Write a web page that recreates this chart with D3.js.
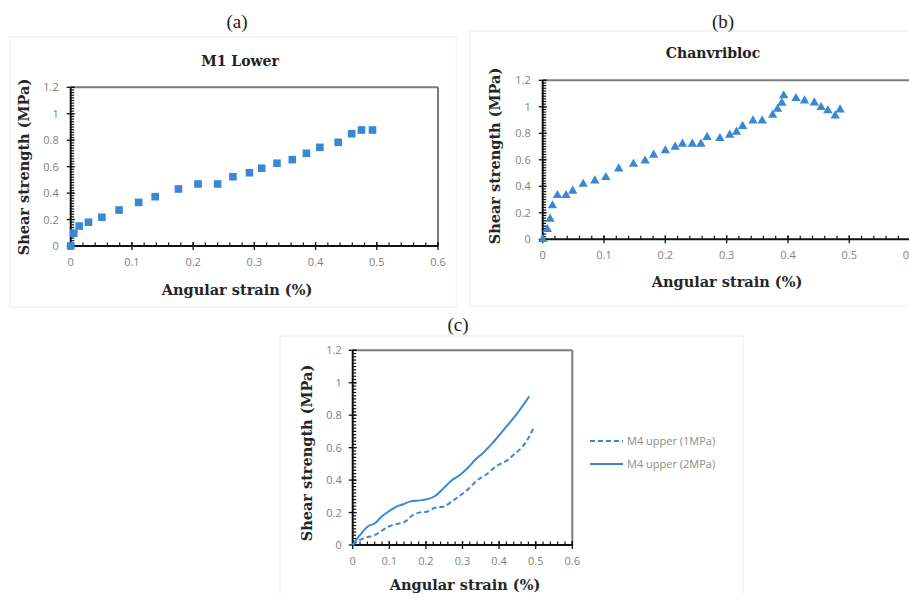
<!DOCTYPE html>
<html><head><meta charset="utf-8">
<script src="https://cdn.jsdelivr.net/npm/d3@7"></script>
<style>
body{margin:0;background:#fff;}
svg{display:block;}
</style></head>
<body>
<svg id="c" width="909" height="594"></svg>
<script>
// ---------- DATA ----------
const xTicks = [0, 0.1, 0.2, 0.3, 0.4, 0.5, 0.6];
const yTicks = [0, 0.2, 0.4, 0.6, 0.8, 1, 1.2];

// (a) M1 Lower
const m1Strain = [0, 0.005, 0.014, 0.029, 0.051, 0.079, 0.111, 0.138, 0.176, 0.208, 0.24, 0.265, 0.292, 0.312, 0.337, 0.362, 0.385, 0.407, 0.437, 0.459, 0.475, 0.493];
const m1Shear  = [0, 0.096, 0.151, 0.18, 0.217, 0.272, 0.33, 0.373, 0.431, 0.469, 0.469, 0.524, 0.554, 0.588, 0.626, 0.653, 0.701, 0.746, 0.784, 0.849, 0.877, 0.877];

// (b) Chanvribloc
const chStrain = [0, 0.0075, 0.012, 0.016, 0.024, 0.038, 0.049, 0.066, 0.085, 0.103, 0.124, 0.148, 0.167, 0.181, 0.2, 0.216, 0.228, 0.244, 0.258, 0.268, 0.289, 0.305, 0.316, 0.326, 0.343, 0.358, 0.375, 0.383, 0.39, 0.393, 0.413, 0.427, 0.443, 0.454, 0.465, 0.477, 0.485];
const chShear  = [0, 0.075, 0.153, 0.254, 0.332, 0.332, 0.365, 0.417, 0.442, 0.468, 0.533, 0.568, 0.593, 0.636, 0.669, 0.697, 0.719, 0.719, 0.719, 0.77, 0.762, 0.787, 0.81, 0.853, 0.895, 0.895, 0.938, 0.983, 1.029, 1.084, 1.064, 1.046, 1.031, 0.996, 0.971, 0.933, 0.978];

// (c) M4 upper
const m4aName = "M4 upper (1MPa)";
const m4aStrain = [0, 0.02, 0.038, 0.061, 0.079, 0.102, 0.12, 0.143, 0.161, 0.184, 0.202, 0.225, 0.248, 0.27, 0.293, 0.316, 0.339, 0.366, 0.393, 0.421, 0.439, 0.462, 0.478, 0.493];
const m4aShear  = [0, 0.031, 0.047, 0.062, 0.088, 0.117, 0.129, 0.144, 0.179, 0.201, 0.205, 0.23, 0.236, 0.267, 0.304, 0.345, 0.397, 0.436, 0.487, 0.52, 0.555, 0.602, 0.651, 0.716];
const m4bName = "M4 upper (2MPa)";
const m4bStrain = [0, 0.02, 0.043, 0.061, 0.079, 0.097, 0.12, 0.138, 0.158, 0.184, 0.207, 0.225, 0.248, 0.27, 0.293, 0.316, 0.334, 0.357, 0.38, 0.403, 0.425, 0.448, 0.466, 0.482];
const m4bShear  = [0, 0.062, 0.117, 0.134, 0.175, 0.205, 0.236, 0.251, 0.269, 0.275, 0.284, 0.302, 0.349, 0.397, 0.431, 0.479, 0.524, 0.569, 0.623, 0.684, 0.744, 0.807, 0.863, 0.916];

// ---------- DRAW ----------
const svg = d3.select("#c");
const BLUE = "#3a88d4";
const SERIF = "'DejaVu Serif','Liberation Serif',serif";
const SERIF2 = "'Liberation Serif','DejaVu Serif',serif";
const SANS = "'Open Sans','Noto Sans',sans-serif";
const fmt = d => d === 0 ? "0" : (d === 1 ? "1" : String(d));

function frame(x, y, w, h) {
  svg.append("rect").attr("x", x).attr("y", y).attr("width", w).attr("height", h)
    .attr("fill", "none").attr("stroke", "#eeeeee").attr("stroke-width", 1);
}

function panel(cfg) {
  const x = d3.scaleLinear().domain([0, 0.6]).range(cfg.xr);
  const y = d3.scaleLinear().domain([0, 1.2]).range(cfg.yr);
  const g = svg.append("g");
  g.append("line").attr("x1", x(0)).attr("x2", x(0.6)).attr("y1", y(1.2)).attr("y2", y(1.2))
    .attr("stroke", "#7a7a7a").attr("stroke-width", 2);
  g.append("line").attr("x1", x(0.6)).attr("x2", x(0.6)).attr("y1", y(1.2)).attr("y2", y(0))
    .attr("stroke", "#7a7a7a").attr("stroke-width", 2);
  const minorX = d3.range(0, 61, 2).map(v => v / 100);
  const minorY = d3.range(0, 121, 2).map(v => v / 100);
  g.selectAll(null).data(minorX).enter().append("line")
    .attr("x1", d => x(d)).attr("x2", d => x(d)).attr("y1", y(0)).attr("y2", y(0) - 3.5)
    .attr("stroke", "#111").attr("stroke-width", 1.2);
  g.selectAll(null).data(minorY).enter().append("line")
    .attr("y1", d => y(d)).attr("y2", d => y(d)).attr("x1", x(0)).attr("x2", x(0) + 3.5)
    .attr("stroke", "#111").attr("stroke-width", 1.2);
  g.selectAll(null).data(xTicks).enter().append("line")
    .attr("x1", d => x(d)).attr("x2", d => x(d)).attr("y1", y(0) - 4).attr("y2", y(0) + 4)
    .attr("stroke", "#111").attr("stroke-width", 1.3);
  g.selectAll(null).data(yTicks).enter().append("line")
    .attr("y1", d => y(d)).attr("y2", d => y(d)).attr("x1", x(0) - 4).attr("x2", x(0) + 4)
    .attr("stroke", "#111").attr("stroke-width", 1.3);
  g.append("line").attr("x1", x(0)).attr("x2", x(0.6)).attr("y1", y(0)).attr("y2", y(0))
    .attr("stroke", "#111").attr("stroke-width", 2);
  g.append("line").attr("x1", x(0)).attr("x2", x(0)).attr("y1", y(0)).attr("y2", y(1.2))
    .attr("stroke", "#111").attr("stroke-width", 2);
  g.selectAll(null).data(xTicks).enter().append("text")
    .attr("x", d => x(d)).attr("y", y(0) + cfg.xlab).attr("text-anchor", "middle")
    .attr("font-family", SANS).attr("font-size", 11).attr("fill", "#7f7f7f").text(fmt);
  g.selectAll(null).data(yTicks).enter().append("text")
    .attr("x", x(0) - cfg.ylab).attr("y", d => y(d) + 4).attr("text-anchor", "end")
    .attr("font-family", SANS).attr("font-size", 11).attr("fill", "#7f7f7f").text(fmt);
  g.append("text").attr("x", cfg.xtitle[0]).attr("y", cfg.xtitle[1]).attr("text-anchor", "middle")
    .attr("font-family", SERIF).attr("font-weight", "bold").attr("font-size", 14.5).attr("fill", "#262626")
    .text("Angular strain (%)");
  g.append("text").attr("transform", `translate(${cfg.ytitle[0]},${cfg.ytitle[1]}) rotate(-90)`)
    .attr("text-anchor", "middle").attr("dy", "0.35em")
    .attr("font-family", SERIF).attr("font-weight", "bold").attr("font-size", 14.5).attr("fill", "#262626")
    .text("Shear strength (MPa)");
  return {x, y, g};
}

frame(10, 37, 446, 270);
frame(470, 31, 460, 275);
frame(280, 336, 463, 262);

[["(a)", 237, 28], ["(b)", 723, 28], ["(c)", 458, 331]].forEach(([t, px, py]) => {
  svg.append("text").attr("x", px).attr("y", py).attr("text-anchor", "middle")
    .attr("font-family", SERIF2).attr("font-size", 19).attr("fill", "#222").text(t);
});

// (a)
const A = panel({xr: [70.7, 438], yr: [246, 87.3], xlab: 20, ylab: 12, xtitle: [237, 295], ytitle: [24, 167]});
svg.append("text").attr("x", 240).attr("y", 66).attr("text-anchor", "middle")
  .attr("font-family", SERIF).attr("font-weight", "bold").attr("font-size", 14).attr("fill", "#222").text("M1 Lower");
A.g.selectAll(null).data(m1Strain.map((s, i) => [s, m1Shear[i]])).enter().append("rect")
  .attr("x", d => A.x(d[0]) - 3.8).attr("y", d => A.y(d[1]) - 3.8)
  .attr("width", 7.6).attr("height", 7.6).attr("fill", BLUE);

// (b)
const B = panel({xr: [542.7, 910.6], yr: [239.3, 80.3], xlab: 20, ylab: 12, xtitle: [727, 287], ytitle: [495, 156]});
svg.append("text").attr("x", 713).attr("y", 58).attr("text-anchor", "middle")
  .attr("font-family", SERIF).attr("font-weight", "bold").attr("font-size", 14).attr("fill", "#222").text("Chanvribloc");
const tri = d3.symbol().type(d3.symbolTriangle).size(38);
B.g.selectAll(null).data(chStrain.map((s, i) => [s, chShear[i]])).enter().append("path")
  .attr("d", tri).attr("transform", d => `translate(${B.x(d[0])},${B.y(d[1])})`).attr("fill", BLUE);

// (c)
const C = panel({xr: [352.7, 572.3], yr: [545, 350.3], xlab: 20, ylab: 11, xtitle: [465, 590], ytitle: [307, 453]});
const line = d3.line().x(d => C.x(d[0])).y(d => C.y(d[1])).curve(d3.curveMonotoneX);
C.g.append("path").datum(m4aStrain.map((s, i) => [s, m4aShear[i]])).attr("d", line)
  .attr("fill", "none").attr("stroke", BLUE).attr("stroke-width", 2).attr("stroke-dasharray", "5,3");
C.g.append("path").datum(m4bStrain.map((s, i) => [s, m4bShear[i]])).attr("d", line)
  .attr("fill", "none").attr("stroke", BLUE).attr("stroke-width", 2);
[[m4aName, 441, "5,3"], [m4bName, 464, null]].forEach(([t, ly, dash]) => {
  const l = svg.append("line").attr("x1", 590).attr("x2", 623).attr("y1", ly).attr("y2", ly)
    .attr("stroke", BLUE).attr("stroke-width", 2);
  if (dash) l.attr("stroke-dasharray", dash);
  svg.append("text").attr("x", 627).attr("y", ly + 4).attr("font-family", SANS).attr("font-size", 11)
    .attr("fill", "#8c8c8c").text(t);
});
</script>
</body></html>
